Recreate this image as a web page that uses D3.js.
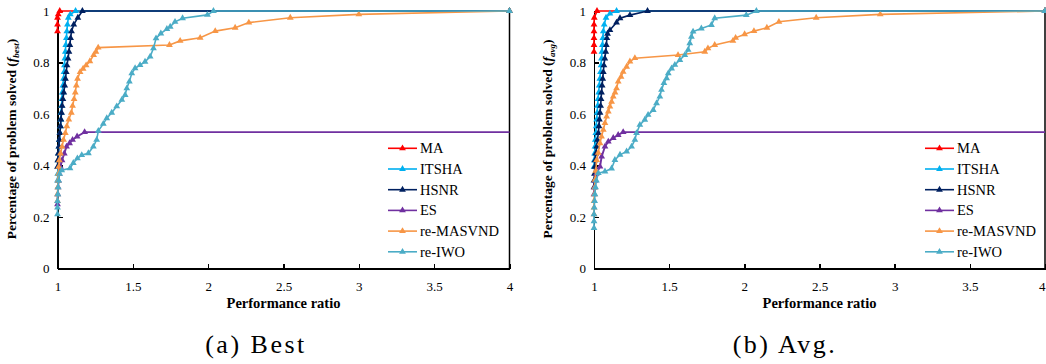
<!DOCTYPE html>
<meta charset="utf-8">
<script src="https://d3js.org/d3.v7.min.js"></script>
<style>
body { margin: 0; background: #fff; }
.axis path, .axis line { stroke: #000; stroke-width: 1.5; shape-rendering: crispEdges; }
</style>
<body>
<script>
// series names + colours
var names = ["MA", "ITSHA", "HSNR", "ES", "re-MASVND", "re-IWO"];
var colors = ["#ff0000", "#00b0f0", "#002060", "#7030a0", "#f79646", "#4bacc6"];

var xTicks = [1, 1.5, 2, 2.5, 3, 3.5, 4];
var yTicks = [0, 0.2, 0.4, 0.6, 0.8, 1];

// (a) best  -- [performance ratio, fraction solved]
var bestMA = [[1.0,0.921],[1.0,0.947],[1.0,0.974],[1.005,0.987],[1.015,1.0],[4,1.0]];
var bestITSHA = [[1.0,0.342],[1.002,0.368],[1.003,0.395],[1.004,0.421],[1.007,0.447],[1.01,0.474],[1.013,0.5],[1.017,0.526],[1.02,0.553],[1.022,0.579],[1.024,0.605],[1.027,0.632],[1.029,0.658],[1.032,0.684],[1.036,0.711],[1.04,0.737],[1.043,0.763],[1.046,0.789],[1.049,0.816],[1.052,0.842],[1.055,0.868],[1.059,0.895],[1.062,0.921],[1.066,0.947],[1.072,0.974],[1.085,0.987],[1.12,1.0],[4,1.0]];
var bestHSNR = [[1.0,0.395],[1.002,0.421],[1.005,0.447],[1.009,0.474],[1.012,0.5],[1.016,0.526],[1.02,0.553],[1.023,0.579],[1.027,0.605],[1.031,0.632],[1.036,0.658],[1.042,0.684],[1.048,0.711],[1.053,0.737],[1.058,0.763],[1.063,0.789],[1.07,0.816],[1.076,0.842],[1.082,0.868],[1.087,0.895],[1.093,0.921],[1.108,0.947],[1.135,0.974],[1.165,1.0],[4,1.0]];
var bestES = [[1.0,0.25],[1.002,0.289],[1.004,0.316],[1.007,0.342],[1.012,0.368],[1.02,0.395],[1.03,0.421],[1.045,0.447],[1.06,0.474],[1.08,0.487],[1.1,0.5],[1.13,0.513],[1.18,0.53],[4,0.53]];
var bestMASVND = [[1.0,0.263],[1.0,0.289],[1.002,0.316],[1.004,0.342],[1.006,0.368],[1.008,0.395],[1.012,0.421],[1.02,0.447],[1.03,0.474],[1.04,0.5],[1.052,0.526],[1.062,0.553],[1.075,0.579],[1.092,0.605],[1.1,0.632],[1.11,0.658],[1.118,0.684],[1.125,0.711],[1.133,0.737],[1.15,0.763],[1.17,0.776],[1.19,0.789],[1.215,0.805],[1.24,0.829],[1.255,0.842],[1.27,0.858],[1.743,0.868],[1.814,0.884],[1.947,0.896],[2.047,0.922],[2.179,0.935],[2.27,0.955],[2.545,0.974],[3.0,0.987],[4.0,1.0]];
var bestIWO = [[1.0,0.211],[1.0,0.237],[1.0,0.263],[1.002,0.289],[1.004,0.316],[1.008,0.342],[1.014,0.368],[1.028,0.382],[1.083,0.39],[1.105,0.41],[1.132,0.428],[1.161,0.441],[1.205,0.448],[1.238,0.474],[1.26,0.5],[1.271,0.535],[1.304,0.562],[1.327,0.584],[1.36,0.605],[1.393,0.63],[1.427,0.655],[1.449,0.674],[1.46,0.7],[1.477,0.726],[1.493,0.758],[1.515,0.778],[1.548,0.79],[1.581,0.803],[1.615,0.823],[1.637,0.855],[1.654,0.894],[1.686,0.913],[1.726,0.93],[1.748,0.939],[1.78,0.958],[1.83,0.972],[1.995,0.985],[2.035,1.0],[4.0,1.0]];

// (b) avg
var avgMA = [[1.0,0.842],[1.0,0.868],[1.0,0.895],[1.0,0.921],[1.0,0.947],[1.002,0.974],[1.02,1.0],[4,1.0]];
var avgITSHA = [[1.0,0.395],[1.002,0.421],[1.004,0.447],[1.007,0.474],[1.009,0.5],[1.012,0.526],[1.015,0.553],[1.018,0.579],[1.021,0.605],[1.024,0.632],[1.027,0.658],[1.031,0.684],[1.035,0.711],[1.039,0.737],[1.043,0.763],[1.047,0.789],[1.05,0.816],[1.053,0.842],[1.056,0.868],[1.059,0.895],[1.062,0.921],[1.068,0.947],[1.08,0.974],[1.106,0.99],[1.15,1.0],[4,1.0]];
var avgHSNR = [[1.0,0.316],[1.0,0.342],[1.003,0.368],[1.005,0.395],[1.007,0.421],[1.012,0.447],[1.018,0.474],[1.023,0.5],[1.029,0.526],[1.033,0.553],[1.036,0.579],[1.04,0.605],[1.044,0.632],[1.047,0.658],[1.05,0.684],[1.054,0.711],[1.058,0.737],[1.062,0.763],[1.066,0.789],[1.072,0.816],[1.078,0.842],[1.082,0.868],[1.086,0.895],[1.09,0.912],[1.106,0.926],[1.15,0.955],[1.173,0.972],[1.239,0.984],[1.356,1.0],[4,1.0]];
var avgES = [[1.0,0.289],[1.003,0.316],[1.008,0.342],[1.015,0.368],[1.04,0.396],[1.051,0.435],[1.073,0.474],[1.095,0.493],[1.128,0.507],[1.161,0.519],[1.194,0.53],[4,0.53]];
var avgMASVND = [[1.0,0.211],[1.0,0.237],[1.0,0.263],[1.003,0.289],[1.005,0.316],[1.007,0.345],[1.012,0.38],[1.018,0.422],[1.028,0.45],[1.04,0.487],[1.05,0.513],[1.062,0.539],[1.073,0.565],[1.084,0.59],[1.095,0.61],[1.106,0.629],[1.117,0.648],[1.128,0.668],[1.14,0.684],[1.15,0.7],[1.161,0.726],[1.18,0.745],[1.194,0.764],[1.217,0.784],[1.239,0.804],[1.272,0.817],[1.559,0.829],[1.737,0.842],[1.758,0.855],[1.803,0.868],[1.924,0.884],[1.942,0.896],[2.002,0.91],[2.064,0.922],[2.15,0.935],[2.23,0.958],[2.478,0.974],[2.904,0.987],[4.0,1.0]];
var avgIWO = [[1.0,0.158],[1.0,0.184],[1.0,0.211],[1.002,0.237],[1.004,0.263],[1.006,0.289],[1.01,0.316],[1.016,0.342],[1.029,0.371],[1.073,0.377],[1.117,0.389],[1.139,0.422],[1.173,0.442],[1.217,0.455],[1.25,0.474],[1.272,0.5],[1.283,0.526],[1.305,0.558],[1.338,0.578],[1.36,0.597],[1.394,0.616],[1.416,0.642],[1.438,0.668],[1.449,0.694],[1.465,0.72],[1.483,0.739],[1.494,0.758],[1.516,0.777],[1.538,0.791],[1.571,0.81],[1.604,0.829],[1.626,0.849],[1.637,0.875],[1.648,0.9],[1.659,0.92],[1.714,0.932],[1.781,0.946],[1.803,0.972],[2.013,0.984],[2.08,1.0],[4,1.0]];

var serif = "Liberation Serif";

var svg = d3.select("body").append("svg")
    .attr("width", 1046)
    .attr("height", 364);

function panel(x0, x1, series, sub, caption, capX, legX) {
    var x = d3.scaleLinear().domain([1, 4]).range([x0, x1]);
    var y = d3.scaleLinear().domain([0, 1]).range([268.7, 11]);
    var g = svg.append("g");

    // right frame line
    g.append("line")
        .attr("x1", x(4)).attr("x2", x(4))
        .attr("y1", y(0)).attr("y2", y(1))
        .attr("stroke", "#000").attr("stroke-width", 1.5);

    var xa = g.append("g").attr("class", "axis")
        .attr("transform", "translate(0," + y(0) + ")")
        .call(d3.axisBottom(x).tickValues(xTicks).tickSizeInner(-5).tickSizeOuter(0).tickPadding(13)
            .tickFormat(function(d) { return d; }));
    xa.selectAll("text").attr("font-family", serif).attr("font-size", 13).attr("fill", "#000");
    // keep the last label inside the page on the right panel
    if (x1 > 1040) {
        xa.selectAll(".tick").filter(function(d) { return d == 4; }).select("text")
            .attr("text-anchor", "end").attr("x", 0);
    }

    var ya = g.append("g").attr("class", "axis")
        .attr("transform", "translate(" + x(1) + ",0)")
        .call(d3.axisLeft(y).tickValues(yTicks).tickSizeInner(-5).tickSizeOuter(0).tickPadding(8)
            .tickFormat(function(d) { return d; }));
    ya.selectAll("text").attr("font-family", serif).attr("font-size", 13).attr("fill", "#000");

    var line = d3.line().x(function(d) { return x(d[0]); }).y(function(d) { return y(d[1]); });
    var tri = d3.symbol().type(d3.symbolTriangle).size(20);

    series.forEach(function(s, i) {
        g.append("path")
            .attr("d", line(s))
            .attr("fill", "none")
            .attr("stroke", colors[i])
            .attr("stroke-width", i == 3 ? 1.9 : 1.6);
        // ES has no marker at its flat end
        var pts = i == 3 ? s.slice(0, -1) : s;
        g.selectAll(null).data(pts).enter().append("path")
            .attr("d", tri)
            .attr("transform", function(d) { return "translate(" + x(d[0]) + "," + y(d[1]) + ")"; })
            .attr("fill", colors[i]);
    });

    // legend
    var leg = g.append("g");
    names.forEach(function(n, i) {
        var ly = 148.3 + i * 20.7;
        leg.append("line").attr("x1", legX).attr("x2", legX + 29)
            .attr("y1", ly).attr("y2", ly)
            .attr("stroke", colors[i]).attr("stroke-width", 1.6);
        leg.append("path").attr("d", tri)
            .attr("transform", "translate(" + (legX + 14.5) + "," + ly + ")")
            .attr("fill", colors[i]);
        leg.append("text").attr("x", legX + 32).attr("y", ly).attr("dy", "0.35em")
            .attr("font-family", serif).attr("font-size", 14.5)
            .text(n);
    });

    // axis titles
    g.append("text")
        .attr("x", (x0 + x1) / 2).attr("y", 308)
        .attr("text-anchor", "middle")
        .attr("font-family", serif).attr("font-weight", "bold").attr("font-size", 14.5)
        .text("Performance ratio");

    var yt = g.append("text")
        .attr("text-anchor", "middle")
        .attr("font-family", serif).attr("font-weight", "bold").attr("font-size", 13.5)
        .attr("transform", "translate(" + (x0 - 42) + ",139) rotate(-90)");
    yt.append("tspan").text("Percentage of problem solved (");
    yt.append("tspan").attr("font-style", "italic").text("f");
    yt.append("tspan").attr("font-style", "italic").attr("font-size", 9).attr("dy", 3).text(sub);
    yt.append("tspan").attr("dy", -3).text(")");

    g.append("text")
        .attr("x", capX).attr("y", 353)
        .attr("text-anchor", "middle")
        .attr("font-family", serif).attr("font-size", 26).attr("letter-spacing", 2.5)
        .text(caption);
}

panel(57.5, 509.5, [bestMA, bestITSHA, bestHSNR, bestES, bestMASVND, bestIWO], "best", "(a) Best", 256, 388);
panel(594, 1045, [avgMA, avgITSHA, avgHSNR, avgES, avgMASVND, avgIWO], "avg", "(b) Avg.", 785, 925);
</script>
</body>
</html>
